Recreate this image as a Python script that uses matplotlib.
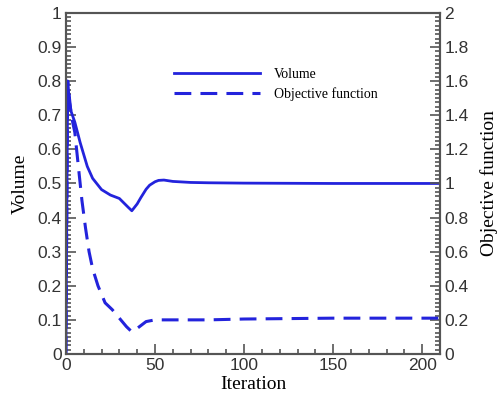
import matplotlib
matplotlib.use("Agg")
import matplotlib.pyplot as plt
from matplotlib.ticker import MultipleLocator, FormatStrFormatter

# volume history (left axis)
vol_iter = [0, 1, 2, 3, 5, 8, 10, 12, 15, 20, 25, 30, 35, 37, 40, 42, 45, 47, 50, 52, 55, 60,
            70, 80, 100, 150, 210]
volume = [0.0, 0.8, 0.74, 0.71, 0.68, 0.62, 0.585, 0.55, 0.515, 0.482, 0.466, 0.456, 0.43, 0.42,
          0.44, 0.458, 0.483, 0.495, 0.505, 0.509, 0.51, 0.506, 0.503, 0.502, 0.501, 0.50, 0.50]

# objective function history (right axis)
obj_iter = [0, 1, 2, 3, 5, 7, 9, 11, 13, 15, 18, 22, 26, 30, 34, 37, 40, 45, 50, 60, 80, 100, 150, 210]
objective = [0.0, 1.6, 1.5, 1.4, 1.3, 1.1, 0.9, 0.74, 0.6, 0.5, 0.4, 0.3, 0.26, 0.21, 0.16, 0.13,
             0.15, 0.19, 0.2, 0.2, 0.2, 0.205, 0.21, 0.21]

BLUE = "#2323dc"
SPINE = "#555555"
tick_font = "Liberation Sans"
label_font = "Liberation Serif"

fig = plt.figure(figsize=(5.03, 4.05), dpi=100)
ax = fig.add_axes([0.131, 0.126, 0.744, 0.842])
ax2 = ax.twinx()

l1, = ax.plot(vol_iter, volume, color=BLUE, lw=2.0, label="Volume")
l2, = ax2.plot(obj_iter, objective, color=BLUE, lw=2.2, ls=(0, (5.5, 3)), label="Objective function")

ax.set_xlim(0, 210)
ax.set_ylim(0, 1)
ax2.set_ylim(0, 2)

ax.xaxis.set_major_locator(MultipleLocator(50))
ax.xaxis.set_minor_locator(MultipleLocator(10))
ax.yaxis.set_major_locator(MultipleLocator(0.1))
ax.yaxis.set_minor_locator(MultipleLocator(0.0125))
ax2.yaxis.set_major_locator(MultipleLocator(0.2))
ax2.yaxis.set_minor_locator(MultipleLocator(0.025))
ax.yaxis.set_major_formatter(FormatStrFormatter("%g"))
ax2.yaxis.set_major_formatter(FormatStrFormatter("%g"))

for a in (ax, ax2):
    for s in a.spines.values():
        s.set_color(SPINE)
        s.set_linewidth(1.5)
    a.tick_params(which="both", direction="in", color=SPINE, width=1.2)
    a.tick_params(which="major", length=7, labelsize=12.5, pad=3)
    a.tick_params(which="minor", length=3.5)
    for t in a.get_xticklabels() + a.get_yticklabels():
        t.set_fontfamily(tick_font)
        t.set_color("#333333")
ax.tick_params(axis="x", which="both", top=False)

ax.set_xlabel("Iteration", fontsize=14, family=label_font, labelpad=2)
ax.set_ylabel("Volume", fontsize=14, family=label_font, labelpad=6)
ax2.set_ylabel("Objective function", fontsize=14, family=label_font, labelpad=8)

ax2.legend(handles=[l1, l2], loc="upper left", bbox_to_anchor=(0.255, 0.875),
           frameon=False, handlelength=6.2, handletextpad=1.0, labelspacing=0.45,
           prop={"family": label_font, "size": 10})

fig.savefig("out.png", dpi=100)
